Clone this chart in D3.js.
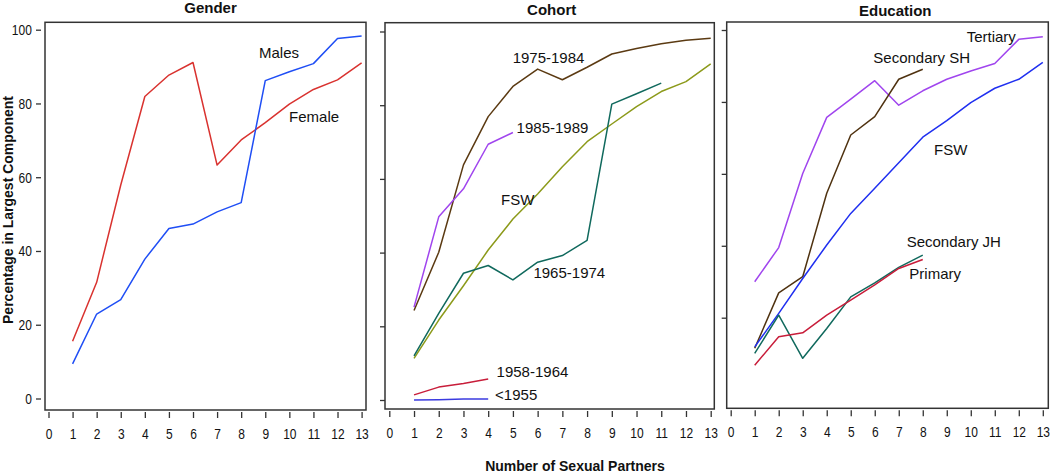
<!DOCTYPE html>
<html>
<head>
<meta charset="utf-8">
<script src="https://cdn.jsdelivr.net/npm/d3@7"></script>
<style>
  html, body { margin: 0; padding: 0; background: #fff; }
  svg { display: block; }
  text { font-family: "Liberation Sans", Arial, sans-serif; fill: #111; }
</style>
</head>
<body>
<svg id="chart" width="1050" height="473"></svg>
<script>
// ---------- data ----------
const xTickValues = [0, 1, 2, 3, 4, 5, 6, 7, 8, 9, 10, 11, 12, 13];
const yTickValues = [0, 20, 40, 60, 80, 100];
const panelTitles = ["Gender", "Cohort", "Education"];
const yAxisTitle = "Percentage in Largest Component";
const xAxisTitle = "Number of Sexual Partners";

// Gender (x = 1..13)
const genderFemale = [15.5, 31.5, 57.9, 81.9, 87.7, 91.1, 63.3, 70.1, 74.8, 79.8, 83.8, 86.4, 91.0];
const genderMales  = [9.4, 22.9, 26.8, 37.8, 46.1, 47.3, 50.6, 53.1, 86.2, 88.6, 90.8, 97.6, 98.3];

// Cohort
const cohort1975 = [24.3, 40.1, 63.8, 76.9, 85.1, 89.8, 86.9, 90.3, 93.9, 95.4, 96.7, 97.6, 98.2];
const cohort1985 = [25.2, 49.7, 57.3, 69.4, 72.6];
const cohortFSW  = [11.3, 21.7, 31.0, 40.7, 49.1, 55.9, 63.3, 70.1, 74.9, 79.6, 83.7, 86.4, 91.2];
const cohort1965 = [12.0, 23.5, 34.4, 36.5, 32.6, 37.4, 39.2, 43.3, 80.3, 83.1, 86.0];
const cohort1958 = [1.4, 3.5, 4.5, 5.7];
const cohort1955 = [0.0, 0.1, 0.3, 0.3];

// Education
const eduTertiary    = [30.0, 39.5, 60.1, 75.7, 80.8, 85.9, 79.1, 83.1, 86.3, 88.6, 90.7, 97.4, 98.1];
const eduSecondarySH = [11.5, 26.9, 31.4, 54.6, 70.8, 75.9, 86.3, 89.1];
const eduFSW         = [11.9, 21.2, 30.9, 40.2, 49.0, 56.0, 63.1, 70.2, 74.8, 79.8, 83.8, 86.3, 91.0];
const eduSecondaryJH = [10.1, 20.7, 8.7, 17.0, 25.8, 29.7, 34.0, 37.4];
const eduPrimary     = [6.8, 14.7, 15.8, 20.7, 24.9, 29.1, 33.7, 36.2];

// ---------- layout / style ----------
const panels = [
  {
    title: panelTitles[0], titleX: 210.5, titleY: 13,
    frame: {l: 45, r: 366, t: 22.3, b: 410},
    xr: [48.5, 361.6], yd: [0, 100], yr: [398.5, 29.7],
    yTicks: yTickValues, yLabels: true, tickGap: 4,
    series: [
      {name: "Female", values: genderFemale, color: "#d9322f", lx: 9.99, ly: 76.4},
      {name: "Males",  values: genderMales,  color: "#1f4ef5", lx: 8.74, ly: 93.7}
    ]
  },
  {
    title: panelTitles[1], titleX: 551.7, titleY: 14.5,
    frame: {l: 385, r: 714.3, t: 22.7, b: 409},
    xr: [389.3, 710.7], yd: [0, 100], yr: [400, 31.5],
    yTicks: yTickValues, yLabels: false, tickGap: 0,
    series: [
      {name: "FSW",       values: cohortFSW,  color: "#8c9a1a", lx: 4.52, ly: 54.3},
      {name: "1965-1974", values: cohort1965, color: "#10695d", lx: 5.83, ly: 34.4},
      {name: "1975-1984", values: cohort1975, color: "#5b3a12", lx: 4.99, ly: 92.9},
      {name: "1985-1989", values: cohort1985, color: "#a045ee", lx: 5.15, ly: 73.9},
      {name: "1958-1964", values: cohort1958, color: "#c81d3a", lx: 4.34, ly: 7.7},
      {name: "<1955",     values: cohort1955, color: "#3b3be0", lx: 4.28, ly: 1.5}
    ]
  },
  {
    title: panelTitles[2], titleX: 895.3, titleY: 16,
    frame: {l: 726.7, r: 1048.3, t: 22, b: 408.3},
    xr: [730.7, 1042.8], yd: [20, 100], yr: [317.7, 30],
    yTicks: yTickValues.slice(1), yLabels: false, tickGap: 0,
    series: [
      {name: "Tertiary",     values: eduTertiary,    color: "#a045ee", lx: 9.83, ly: 98.1},
      {name: "Secondary SH", values: eduSecondarySH, color: "#4f3210", lx: 5.94, ly: 92.3},
      {name: "FSW",          values: eduFSW,         color: "#1f2ff0", lx: 8.47, ly: 66.8},
      {name: "Secondary JH", values: eduSecondaryJH, color: "#10695d", lx: 7.33, ly: 41.1},
      {name: "Primary",      values: eduPrimary,     color: "#c81d3a", lx: 7.44, ly: 32.3}
    ]
  }
];

const svg = d3.select("#chart");

panels.forEach(p => {
  const x = d3.scaleLinear().domain([0, 13]).range(p.xr);
  const y = d3.scaleLinear().domain(p.yd).range(p.yr);
  const g = svg.append("g");

  // frame
  g.append("rect")
    .attr("x", p.frame.l).attr("y", p.frame.t)
    .attr("width", p.frame.r - p.frame.l).attr("height", p.frame.b - p.frame.t)
    .attr("fill", "none").attr("stroke", "#333").attr("stroke-width", 1.5);

  // x axis ticks (below frame)
  const xAxis = d3.axisBottom(x).tickValues(xTickValues).tickSize(6).tickPadding(10).tickFormat(d3.format("d"));
  const xg = g.append("g").attr("transform", `translate(0,${p.frame.b + 2})`).call(xAxis);
  xg.select(".domain").remove();
  xg.selectAll("line").attr("stroke", "#333").attr("stroke-width", 1.3);
  xg.selectAll("text").style("font-size", "15px").attr("fill", "#111")
    .attr("transform", "scale(0.8,1)");

  // y axis ticks (left of frame)
  const yAxis = d3.axisLeft(y).tickValues(p.yTicks).tickSize(5).tickPadding(4)
    .tickFormat(p.yLabels ? d3.format("d") : () => "");
  const yg = g.append("g").attr("transform", `translate(${p.frame.l - p.tickGap},0)`).call(yAxis);
  yg.select(".domain").remove();
  yg.selectAll("line").attr("stroke", "#333").attr("stroke-width", 1.3);
  yg.selectAll("text").style("font-size", "15px").attr("fill", "#111")
    .attr("x", -11.5).attr("transform", "scale(0.8,1)");

  // title
  g.append("text").attr("x", p.titleX).attr("y", p.titleY)
    .attr("text-anchor", "middle").style("font-size", "15px").style("font-weight", "bold")
    .text(p.title);

  // lines
  const line = d3.line().x((d, i) => x(i + 1)).y(d => y(d));
  p.series.forEach(s => {
    g.append("path").datum(s.values)
      .attr("d", line).attr("fill", "none")
      .attr("stroke", s.color).attr("stroke-width", 1.5).attr("stroke-linejoin", "round");
  });
  p.series.forEach(s => {
    g.append("text").attr("x", x(s.lx)).attr("y", y(s.ly)).attr("dy", "0.35em")
      .style("font-size", "15px").text(s.name);
  });
});

// axis titles
svg.append("text")
  .attr("transform", "translate(13,210) rotate(-90)")
  .attr("text-anchor", "middle").style("font-size", "14px").style("font-weight", "bold")
  .text(yAxisTitle);

svg.append("text").attr("x", 575).attr("y", 471)
  .attr("text-anchor", "middle").style("font-size", "14px").style("font-weight", "bold")
  .text(xAxisTitle);
</script>
</body>
</html>
